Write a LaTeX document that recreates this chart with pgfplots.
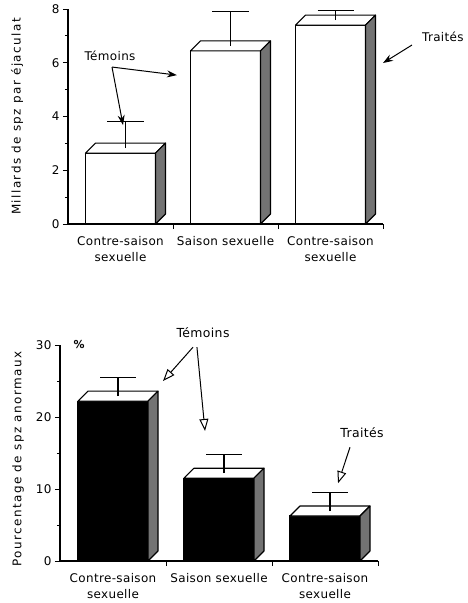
\documentclass[border=0pt]{standalone}
\usepackage{pgfplots}
\usepackage{pgfplotstable}
\pgfplotsset{compat=1.18}
\usepackage{fontspec}
\setmainfont{DejaVu Sans}[LetterSpace=3]
\newfontfamily\labfont{DejaVu Sans}[LetterSpace=12]
\usetikzlibrary{arrows.meta}

% mean and standard error (upper bar only)
\pgfplotstableread{
x y e
0 2.64 1.19
1 6.44 1.48
2 7.40 0.53
}\spz
\pgfplotstableread{
x y e
0 22.2 3.25
1 11.5 3.33
2 6.25 3.29
}\anormaux

% top face, shaded side and error bar of a 3D bar, drawn at each data point
% #1 = bp per y unit, #2 = side colour
\pgfplotsset{
  bar3d/.style 2 args={
    scatter, only marks, mark=*, mark size=0pt,
    visualization depends on={rawy \as \yv},
    visualization depends on={\thisrow{e} \as \ev},
    scatter/@pre marker code/.code={
      \pgfmathsetmacro\hh{\yv*#1}
      \pgfmathsetmacro\eh{\ev*#1}
      \filldraw[fill=white,draw=black,line width=1.1pt,line join=round]
        (-35bp,0pt) -- ++(10bp,10bp) -- ++(70bp,0pt) -- ++(-10bp,-10bp) -- cycle;
      \filldraw[fill=#2,draw=black,line width=1.1pt,line join=round]
        (35bp,0pt) -- ++(10bp,10bp) -- ++(0pt,{-\hh*1bp}) -- ++(-10bp,-10bp) -- cycle;
      \draw[line width=1.1pt] (5bp,5bp) -- (5bp,{\eh*1bp});
      \draw[line width=1.1pt] (-13bp,{\eh*1bp}) -- (23bp,{\eh*1bp});
    },
    scatter/@post marker code/.code={},
  },
  myaxis/.style={
    scale only axis,
    /pgf/number format/assume math mode=true,
    axis x line=bottom, axis y line=left,
    axis line style={-, line width=1.1pt},
    tick align=outside,
    major tick length=5bp, minor tick length=3bp,
    every tick/.style={black, line width=0.9pt},
    xmin=-0.5, xmax=2.5, ymin=0,
    xtick={0.5,1.5,2.5}, xticklabels={},
    extra x ticks={0,1,2},
    extra x tick labels={{Contre-saison\\sexuelle},{Saison sexuelle},{Contre-saison\\sexuelle}},
    extra x tick style={major tick length=0pt},
    xticklabel style={font=\fontsize{12}{16}\selectfont, align=center, yshift=-9bp},
    yticklabel style={font=\fontsize{12}{12}\selectfont},
    ylabel style={anchor=center, font=\fontsize{12}{12}\labfont},
    clip=false,
  },
}

\begin{document}
\begin{tikzpicture}
\path[use as bounding box] (0,0) rectangle (468bp,-603bp);

% ---- top: number of spermatozoa ----
\begin{axis}[
  myaxis,
  at={(68bp,-224bp)}, anchor=south west,
  width=315bp, height=215bp,
  ymax=8, ytick={0,2,...,8}, minor ytick={1,3,5,7},
  ylabel={Millards de spz par éjaculat},
  ylabel style={at={(axis description cs:-0.162,0.5)}},
]
\addplot[ybar, bar width=70bp, fill=white, draw=black, line width=1.1pt]
  table[x=x, y=y] {\spz};
\addplot[bar3d={26.875}{black!55}] table[x=x, y=y] {\spz};

\node[font=\fontsize{12}{12}\selectfont] at (axis cs:-0.1,6.25) {Témoins};
\draw[-{Stealth[length=10bp,width=7bp]}, line width=1pt]
  (axis cs:-0.081,5.84) -- (axis cs:0.024,3.68);
\draw[-{Stealth[length=10bp,width=7bp]}, line width=1pt]
  (axis cs:-0.081,5.84) -- (axis cs:0.538,5.54);
\node[font=\fontsize{12}{12}\selectfont] at (axis cs:3.07,6.96) {Traités};
\draw[-{Stealth[length=10bp,width=7bp]}, line width=1pt]
  (axis cs:2.776,6.66) -- (axis cs:2.5,5.99);
\end{axis}

% ---- bottom: abnormal spermatozoa ----
\begin{axis}[
  myaxis,
  at={(60bp,-561bp)}, anchor=south west,
  width=318bp, height=216bp,
  ymax=30, ytick={0,10,20,30}, minor ytick={5,15,25},
  ylabel={Pourcentage de spz anormaux},
  ylabel style={at={(axis description cs:-0.132,0.472)}},
]
\addplot[ybar, bar width=70bp, fill=black, draw=black, line width=1.1pt]
  table[x=x, y=y] {\anormaux};
\addplot[bar3d={7.2}{black!55}] table[x=x, y=y] {\anormaux};

\node[font=\bfseries\fontsize{11}{11}\selectfont] at (axis cs:-0.32,30) {\%};
\node[font=\fontsize{12.5}{12}\selectfont] at (axis cs:0.849,31.67) {Témoins};
\draw[-{Triangle[open,length=12bp,width=9bp]}, line width=1pt]
  (axis cs:0.755,29.7) -- (axis cs:0.472,25.0);
\draw[-{Triangle[open,length=12bp,width=9bp]}, line width=1pt]
  (axis cs:0.792,29.7) -- (axis cs:0.868,18.06);
\node[font=\fontsize{12.5}{12}\selectfont] at (axis cs:2.35,17.8) {Traités};
\draw[-{Triangle[open,length=12bp,width=9bp]}, line width=1pt]
  (axis cs:2.236,15.8) -- (axis cs:2.123,10.8);
\end{axis}
\end{tikzpicture}
\end{document}
